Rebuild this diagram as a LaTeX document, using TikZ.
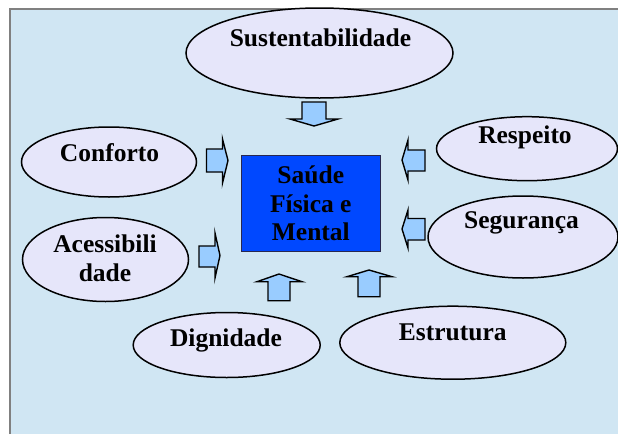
\documentclass[tikz,border=0pt]{standalone}
\usepackage{fontspec}
\setmainfont{Liberation Serif}[BoldFont={Liberation Serif Bold}]
\definecolor{panelbg}{RGB}{208,230,243}
\definecolor{ellfill}{RGB}{230,230,250}
\definecolor{arrfill}{RGB}{153,204,255}
\definecolor{boxfill}{RGB}{0,72,255}
\tikzset{
  ell/.style={draw=black, line width=1.5pt, fill=ellfill, ellipse, inner sep=0pt},
  lbl/.style={font=\fontsize{25.5}{28.7}\selectfont\bfseries, anchor=base, inner sep=0pt, text=black},
  blockarr/.style={draw=black, line width=1.4pt, fill=arrfill, line join=miter},
}
\usetikzlibrary{shapes.geometric}
\begin{document}
\begin{tikzpicture}[x=1pt,y=-1pt]
\useasboundingbox (0,0) rectangle (618,434);
\fill[white] (0,0) rectangle (618,434);
\fill[panelbg] (10,9) rectangle (618,434);
\draw[gray, line width=1.5pt] (10,434) -- (10,9) -- (618,9);

% ellipses
\node[ell, minimum width=267pt, minimum height=90pt] (sus) at (319.5,53) {};
\node[ell, minimum width=175pt, minimum height=70pt] (conf) at (109,162) {};
\node[ell, minimum width=166pt, minimum height=84pt] (acc) at (105.5,259.5) {};
\node[ell, minimum width=181pt, minimum height=64pt] (resp) at (527,148.7) {};
\node[ell, minimum width=190pt, minimum height=82pt] (seg) at (523,237) {};
\node[ell, minimum width=187pt, minimum height=65pt] (dig) at (226.7,345) {};
\node[ell, minimum width=226pt, minimum height=73pt] (est) at (452.8,342.7) {};

% labels
\node[lbl] (tsus) at (320.5,46.7) {Sustentabilidade};
\node[lbl] (tconf) at (109.5,161.7) {Conforto};
\node[lbl, anchor=center, align=center] (tacc) at (105,258.6) {Acessibili\\dade};
\node[lbl] (tresp) at (525,143.3) {Respeito};
\node[lbl] (tseg) at (521.5,228.3) {Segurança};
\node[lbl] (tdig) at (226,346) {Dignidade};
\node[lbl] (test) at (452.8,340.7) {Estrutura};

% center box
\node[draw={rgb,255:red,40;green,40;blue,80}, line width=0.8pt, fill=boxfill,
      minimum width=138.3pt, minimum height=96.7pt, inner sep=0pt,
      font=\fontsize{25.5}{28.7}\selectfont\bfseries, align=center, text=black] (center) at (310.8,203.3)
      {Saúde\\Física e\\Mental};

% block arrows
\draw[blockarr] (302,102) -- (326,102) -- (326,119) -- (338,119) -- (314,126) -- (290,119) -- (302,119) -- cycle;
\draw[blockarr] (206.5,149) -- (222.5,149) -- (222.5,139) -- (228,160.5) -- (222.5,183) -- (222.5,172) -- (206.5,172) -- cycle;
\draw[blockarr] (199,246) -- (215,246) -- (215,233) -- (220,255.5) -- (215,278) -- (215,267) -- (199,267) -- cycle;
\draw[blockarr] (425,150) -- (408,150) -- (408,140) -- (402,160) -- (408,180) -- (408,171) -- (425,171) -- cycle;
\draw[blockarr] (425,218.5) -- (408,218.5) -- (408,210) -- (402,229) -- (408,248) -- (408,240) -- (425,240) -- cycle;
\draw[blockarr] (268,300.7) -- (268,281.7) -- (257,281.7) -- (279,274) -- (302,281.7) -- (290,281.7) -- (290,300.7) -- cycle;
\draw[blockarr] (358,296.7) -- (358,276.7) -- (347,276.7) -- (369,270) -- (392,276.7) -- (380,276.7) -- (380,296.7) -- cycle;
\end{tikzpicture}
\end{document}
